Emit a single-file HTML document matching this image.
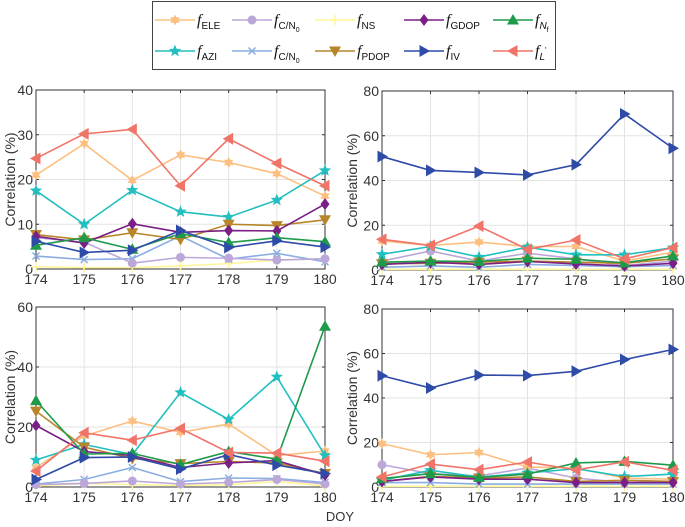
<!DOCTYPE html>
<html><head><meta charset="utf-8">
<style>
body{margin:0;background:#fff;}
svg{font-family:"Liberation Sans",Arial,sans-serif;display:block;}
</style></head>
<body>
<svg id="chart" width="685" height="527" viewBox="0 0 685 527" xmlns="http://www.w3.org/2000/svg">
<g>
<rect x="152.5" y="1.5" width="403" height="68" fill="#fff" stroke="#444" stroke-width="1"/>
<g id="legend-items"></g>
</g>
<g id="panels"></g>
<text x="340" y="521" font-size="13" fill="#333" text-anchor="middle">DOY</text>
</svg>
<script>
const days = [174,175,176,177,178,179,180];
const seriesKeys = ["ELE","CN0","NS","GDOP","Nf","AZI","CN0p","PDOP","IV","Lp"];
const colors = {ELE:"#fdbf80",CN0:"#bba8d8",NS:"#fff59a",GDOP:"#7a1f86",Nf:"#1e9a4a",AZI:"#22bfc0",CN0p:"#8aaee2",PDOP:"#b8862a",IV:"#2e4ba8",Lp:"#f07468"};
const markers = {ELE:"star6",CN0:"circle",NS:"plus",GDOP:"diamond",Nf:"up",AZI:"star5",CN0p:"x",PDOP:"down",IV:"right",Lp:"left"};
const subs = {ELE:"ELE",CN0:"C/N",NS:"NS",GDOP:"GDOP",Nf:"N",AZI:"AZI",CN0p:"C/N",PDOP:"PDOP",IV:"IV",Lp:"L"};
// panel 1 (top-left)
const p1ELE=[21,28,19.8,25.5,23.8,21.3,16.3];
const p1CN0=[7,6,1.3,2.6,2.4,2,2.3];
const p1NS=[0.5,0.3,0.3,0.7,1.2,2,2.3];
const p1GDOP=[7.3,5.8,10.1,8.2,8.6,8.5,14.5];
const p1Nf=[5.3,7,4.4,7.9,5.9,7,6.1];
const p1AZI=[17.5,10,17.6,12.8,11.6,15.4,22];
const p1CN0p=[2.9,2.1,2.3,7.4,2.2,3.5,1.6];
const p1PDOP=[7.7,6.5,8.1,6.6,10,9.7,11];
const p1IV=[6.2,3.7,4.2,8.6,4.8,6.3,4.9];
const p1Lp=[24.7,30.2,31.2,18.6,29.1,23.6,18.6];
// panel 2 (top-right)
const p2ELE=[13,11,12.5,10.5,10.5,4,8];
const p2CN0=[4,8.5,4,7.5,5,2,4];
const p2NS=[0.3,0.3,0.3,0.3,0.3,0.3,0.3];
const p2GDOP=[2.5,3.5,2.5,3.8,2.7,1.8,3];
const p2Nf=[3.5,4,3.8,5.3,4.8,3.2,6.3];
const p2AZI=[7,10.5,5.8,10.2,6.8,6.8,10];
const p2CN0p=[1.2,1.8,1.2,2.5,2,1.5,2];
const p2PDOP=[2.8,3,3.5,4,3.5,3,5];
const p2IV=[50.7,44.5,43.6,42.5,47.1,69.7,54.4];
const p2Lp=[13.7,11,19.6,9.2,13.4,5,10];
// panel 3 (bottom-left)
const p3ELE=[6.5,17,22,18.2,21,10.5,12];
const p3CN0=[0.8,1.2,2,1,1.5,2.5,1];
const p3NS=[0.3,1.2,0.8,0.5,0.8,1.8,0.3];
const p3GDOP=[20.5,11.8,10.5,6.5,8,8.8,4];
const p3Nf=[28.8,11,11.2,7.5,11.8,9.3,53.6];
const p3AZI=[9,14.2,10.8,31.5,22.5,36.7,10.5];
const p3CN0p=[1,2.5,6.5,1.8,3,2.8,1.5];
const p3PDOP=[25.3,13.3,9.5,7.8,8.5,8,4.5];
const p3IV=[2.5,9.8,10,6,10.8,7.3,4.5];
const p3Lp=[5.3,18.1,15.6,19.5,11.5,11.3,8.6];
// panel 4 (bottom-right)
const p4ELE=[19.5,14.5,15.5,9,8.5,4,3.5];
const p4CN0=[10,6,5,8.5,4,2,2.5];
const p4NS=[0.3,0.3,0.3,0.3,0.3,0.3,0.3];
const p4GDOP=[2.5,4.5,3.5,3.5,2,2,2];
const p4Nf=[3.8,6,4.3,5.8,10.8,11.5,9.8];
const p4AZI=[3,7.5,4.5,6.3,8.2,4.7,5.8];
const p4CN0p=[2,2,1.3,1.3,1.3,1.3,1.3];
const p4PDOP=[2.5,4.8,4,4.5,2.5,3,2.5];
const p4IV=[50,44.5,50.3,50.1,52,57.3,61.8];
const p4Lp=[4.5,10.3,7.8,11.2,7.7,11.3,7.5];
const p1Ticks=[0,10,20,30,40], p2Ticks=[0,20,40,60,80], p3Ticks=[0,20,40,60], p4Ticks=[0,20,40,60,80];

const NS="http://www.w3.org/2000/svg";
function mk(tag,attrs,parent){const e=document.createElementNS(NS,tag);for(const k in attrs)e.setAttribute(k,attrs[k]);parent.appendChild(e);return e;}
function starPts(cx,cy,n,ro,ri){let p=[];for(let i=0;i<2*n;i++){const r=i%2?ri:ro;const a=-Math.PI/2+i*Math.PI/n;p.push((cx+r*Math.cos(a)).toFixed(1)+","+(cy+r*Math.sin(a)).toFixed(1));}return p.join(" ");}
function marker(type,x,y,c,g){
  const s=5;
  switch(type){
    case "circle": return mk("circle",{cx:x,cy:y,r:4.5,fill:c},g);
    case "diamond": return mk("polygon",{points:`${x},${y-6} ${x+4.5},${y} ${x},${y+6} ${x-4.5},${y}`,fill:c},g);
    case "up": return mk("polygon",{points:`${x},${y-6} ${x+6},${y+4.5} ${x-6},${y+4.5}`,fill:c},g);
    case "down": return mk("polygon",{points:`${x},${y+6} ${x+6},${y-4.5} ${x-6},${y-4.5}`,fill:c},g);
    case "right": return mk("polygon",{points:`${x+6},${y} ${x-4.5},${y-6} ${x-4.5},${y+6}`,fill:c},g);
    case "left": return mk("polygon",{points:`${x-6},${y} ${x+4.5},${y-6} ${x+4.5},${y+6}`,fill:c},g);
    case "star5": return mk("polygon",{points:starPts(x,y,5,6.5,2.8),fill:c},g);
    case "star6": return mk("polygon",{points:starPts(x,y,6,5.5,3),fill:c},g);
    case "plus": return mk("path",{d:`M${x-s} ${y}H${x+s}M${x} ${y-s}V${y+s}`,stroke:c,"stroke-width":1.5},g);
    case "x": return mk("path",{d:`M${x-3.5} ${y-3.5}L${x+3.5} ${y+3.5}M${x+3.5} ${y-3.5}L${x-3.5} ${y+3.5}`,stroke:c,"stroke-width":1.5},g);
  }
}
const svg=document.getElementById("chart");
// legend
const lg=document.getElementById("legend-items");
const colX=[155,232,315,404,493];
seriesKeys.forEach((k,i)=>{
  const row=i<5?0:1, col=i%5;
  const x0=colX[col], y0=row?51:20;
  const g=mk("g",{},lg);
  
  
  mk("line",{x1:x0,y1:y0,x2:x0+40,y2:y0,stroke:colors[k],"stroke-width":1.6},g);
  marker(markers[k],x0+20,y0,colors[k],g);
  const t=mk("text",{x:x0+42,y:y0+5,"font-size":14,fill:"#111"},g);
  const f=mk("tspan",{"font-style":"italic","font-family":"Liberation Serif, serif","font-size":16},t);f.textContent="f";
  const it=(k==="Nf"||k==="Lp")?{"font-style":"italic"}:{};
  const sb=mk("tspan",Object.assign({dy:4,"font-size":10},it),t);sb.textContent=subs[k];
  if(k==="CN0"||k==="CN0p"){const z=mk("tspan",{dy:3,"font-size":7},t);z.textContent="0";}
  if(k==="Nf"){const z=mk("tspan",{dy:3,"font-size":7},t);z.textContent="f";}
  if(k==="Lp"){const z=mk("tspan",{dy:-7,"font-size":8},t);z.textContent="'";}
});
const panels=[
  {name:"panel-top-left",L:36,R:325,T:90,B:269,max:40,ticks:p1Ticks,data:[p1ELE,p1CN0,p1NS,p1GDOP,p1Nf,p1AZI,p1CN0p,p1PDOP,p1IV,p1Lp],ylx:15},
  {name:"panel-top-right",L:382,R:673,T:91,B:270,max:80,ticks:p2Ticks,data:[p2ELE,p2CN0,p2NS,p2GDOP,p2Nf,p2AZI,p2CN0p,p2PDOP,p2IV,p2Lp],ylx:357},
  {name:"panel-bottom-left",L:36,R:325,T:307,B:487,max:60,ticks:p3Ticks,data:[p3ELE,p3CN0,p3NS,p3GDOP,p3Nf,p3AZI,p3CN0p,p3PDOP,p3IV,p3Lp],ylx:15},
  {name:"panel-bottom-right",L:382,R:673,T:309,B:487,max:80,ticks:p4Ticks,data:[p4ELE,p4CN0,p4NS,p4GDOP,p4Nf,p4AZI,p4CN0p,p4PDOP,p4IV,p4Lp],ylx:357}
];
const pg=document.getElementById("panels");
panels.forEach(p=>{
  const g=mk("g",{},pg);
  
  
  const xs=d=>p.L+(d-days[0])/(days[days.length-1]-days[0])*(p.R-p.L);
  const ys=v=>p.B-v/p.max*(p.B-p.T);
  days.forEach(d=>{
    mk("line",{x1:xs(d),y1:p.T,x2:xs(d),y2:p.B,stroke:"#e3e3e3","stroke-width":1},g);
    mk("line",{x1:xs(d),y1:p.B,x2:xs(d),y2:p.B-3,stroke:"#333"},g);
    mk("line",{x1:xs(d),y1:p.T,x2:xs(d),y2:p.T+3,stroke:"#333"},g);
    const t=mk("text",{x:xs(d),y:p.B+15,"font-size":14,fill:"#333","text-anchor":"middle"},g);
    
    
    t.textContent=d;
  });
  p.ticks.forEach(v=>{
    mk("line",{x1:p.L,y1:ys(v),x2:p.R,y2:ys(v),stroke:"#e3e3e3","stroke-width":1},g);
    mk("line",{x1:p.L,y1:ys(v),x2:p.L+3,y2:ys(v),stroke:"#333"},g);
    mk("line",{x1:p.R,y1:ys(v),x2:p.R-3,y2:ys(v),stroke:"#333"},g);
    const t=mk("text",{x:p.L-3,y:ys(v)+5,"font-size":14,fill:"#333","text-anchor":"end"},g);
    
    
    t.textContent=v;
  });
  mk("rect",{x:p.L,y:p.T,width:p.R-p.L,height:p.B-p.T,fill:"none",stroke:"#333","stroke-width":1},g);
  const yl=mk("text",{x:p.ylx,y:(p.T+p.B)/2,"font-size":14,fill:"#333","text-anchor":"middle",transform:`rotate(-90 ${p.ylx} ${(p.T+p.B)/2})`},g);
  
  
  yl.textContent="Correlation (%)";
  const order=[2,6,1,0,5,7,3,4,8,9];
  order.forEach(i=>{
    const k=seriesKeys[i], arr=p.data[i];
    const sg=mk("g",{},g);
    
    
    mk("polyline",{points:arr.map((v,j)=>xs(days[j])+","+ys(v)).join(" "),fill:"none",stroke:colors[k],"stroke-width":1.6},sg);
    arr.forEach((v,j)=>{
      const m=marker(markers[k],xs(days[j]),ys(v),colors[k],sg);
      
      
    });
  });
});
</script>
</body></html>
